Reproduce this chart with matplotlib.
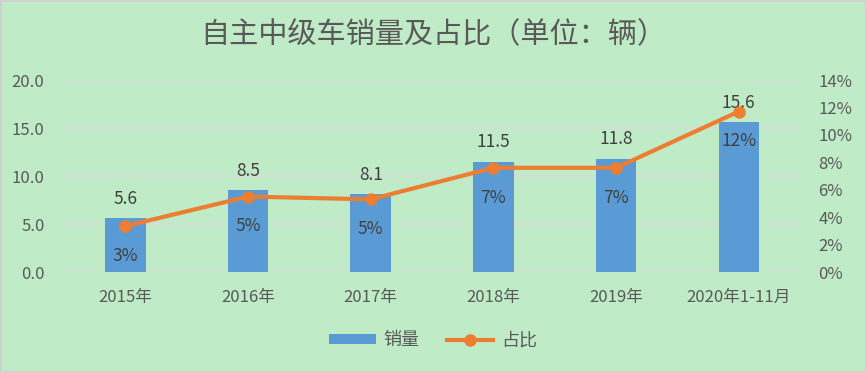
import matplotlib
matplotlib.use("Agg")
import matplotlib.pyplot as plt
from matplotlib.ticker import FuncFormatter

plt.rcParams["font.family"] = ["Noto Sans CJK SC", "DejaVu Sans"]

# 数据
categories = ["2015年", "2016年", "2017年", "2018年", "2019年", "2020年1-11月"]
sales = [5.6, 8.5, 8.1, 11.5, 11.8, 15.6]
share = [3.35, 5.5, 5.3, 7.6, 7.6, 11.7]
share_labels = ["3%", "5%", "5%", "7%", "7%", "12%"]
title = "自主中级车销量及占比（单位：辆）"

bg = "#C0EBC7"
bar_color = "#5B9BD5"
line_color = "#ED7D31"
tick_color = "#595959"
label_color = "#404040"

fig = plt.figure(figsize=(8.66, 3.72), dpi=100, facecolor=bg,
                 edgecolor="#D0D0D0", linewidth=2)
ax = fig.add_axes([0.0739, 0.2688, 0.85, 0.5161])
ax.set_facecolor(bg)
ax2 = ax.twinx()

x = list(range(len(categories)))

# 柱状图：销量
bars = ax.bar(x, sales, width=0.33, color=bar_color, zorder=2, label="销量")
ax.set_ylim(0, 20)
ax.set_yticks([0, 5, 10, 15, 20])
ax.yaxis.set_major_formatter(FuncFormatter(lambda v, p: f"{v:.1f}"))
ax.set_xlim(-0.5, len(categories) - 0.5)
ax.set_xticks(x)
ax.set_xticklabels(categories)
ax.grid(axis="y", color="#D9D9D9", linewidth=1.2, zorder=0)
ax.set_axisbelow(True)

for xi, v in zip(x, sales):
    ax.annotate(f"{v}", (xi, v), xytext=(0, 14), textcoords="offset points",
                ha="center", va="center", fontsize=12.5, color=label_color)

# 折线图：占比
line, = ax2.plot(x, share, color=line_color, linewidth=3, marker="o",
                 markersize=8, label="占比", zorder=3)
ax2.set_ylim(0, 14)
ax2.set_yticks(range(0, 15, 2))
ax2.yaxis.set_major_formatter(FuncFormatter(lambda v, p: f"{v:.0f}%"))

for xi, v, lab in zip(x, share, share_labels):
    ax2.annotate(lab, (xi, v), xytext=(0, -21.5), textcoords="offset points",
                 ha="center", va="center", fontsize=12.5, color=label_color)

for a in (ax, ax2):
    for s in a.spines.values():
        s.set_visible(False)
    a.tick_params(length=0, labelsize=12, colors=tick_color)
ax.tick_params(axis="y", pad=14)
ax2.tick_params(axis="y", pad=13)
ax.tick_params(axis="x", pad=12)

fig.text(0.5, 0.905, title, ha="center", va="center", fontsize=21,
         color=tick_color)

fig.legend([bars, line], ["销量", "占比"], loc="center",
           bbox_to_anchor=(0.5, 0.085), ncol=2, frameon=False,
           fontsize=13, labelcolor=tick_color, handlelength=2.6,
           handleheight=0.5, columnspacing=1.5, handletextpad=0.4)

fig.savefig("out.png", dpi=100, facecolor=bg, edgecolor="#D0D0D0")
